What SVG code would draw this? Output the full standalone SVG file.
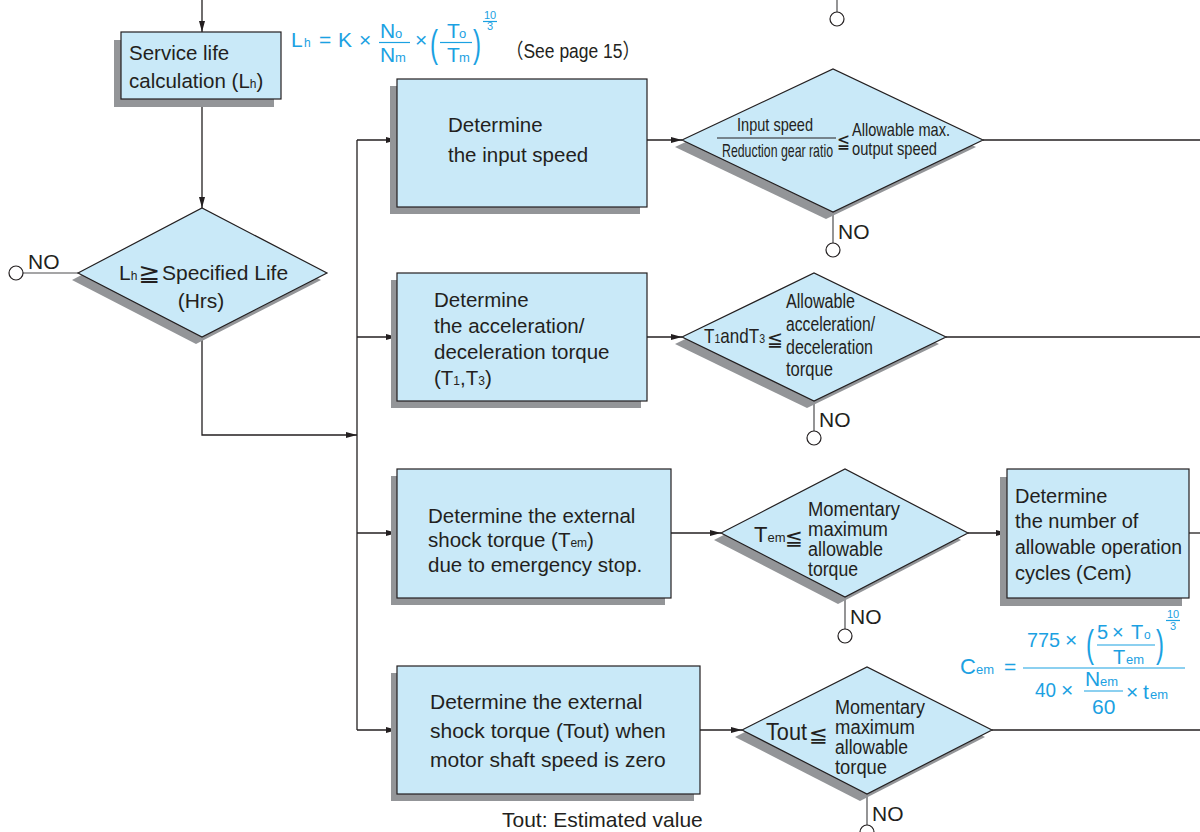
<svg xmlns="http://www.w3.org/2000/svg" width="1200" height="832" viewBox="0 0 1200 832" font-size="20.5">
<defs>
<style>
.box{fill:#c9e9f8;stroke:#231f20;stroke-width:1.2}
.sh{fill:#939598}
.t{font-family:"Liberation Sans","DejaVu Sans",sans-serif;fill:#231f20}
.s{font-family:"DejaVu Sans","Noto Sans CJK JP",sans-serif;fill:#231f20}
.c{font-family:"Liberation Sans","DejaVu Sans",sans-serif;fill:#1ba1e2}
.cb{stroke:#1ba1e2;stroke-width:1.2}
.ln{fill:none;stroke:#231f20;stroke-width:1.3}
.nl{fill:none;stroke:#4d4d4f;stroke-width:1.2}
.circ{fill:#fff;stroke:#231f20;stroke-width:1.2}
.bar{stroke:#231f20;stroke-width:1}
</style>
<marker id="ar" markerUnits="userSpaceOnUse" markerWidth="11" markerHeight="7" refX="11" refY="3.5" orient="auto">
<path d="M0,0.5 L11,3.5 L0,6.5 z" fill="#231f20"/>
</marker>
</defs>
<rect width="1200" height="832" fill="#fff"/>

<g id="connectors">
<path class="ln" d="M202,0 V32" marker-end="url(#ar)"/>
<path class="ln" d="M202,99 V208" marker-end="url(#ar)"/>
<path class="ln" d="M202,337 V435 H357" marker-end="url(#ar)"/>
<path class="ln" d="M357,140 V730"/>
<path class="ln" d="M357,140 H397" marker-end="url(#ar)"/>
<path class="ln" d="M357,337 H397" marker-end="url(#ar)"/>
<path class="ln" d="M357,533 H397" marker-end="url(#ar)"/>
<path class="ln" d="M357,730 H397" marker-end="url(#ar)"/>
<path class="ln" d="M647,140 H682" marker-end="url(#ar)"/>
<path class="ln" d="M983,140 H1200"/>
<path class="ln" d="M647,337 H682" marker-end="url(#ar)"/>
<path class="ln" d="M946,337 H1200"/>
<path class="ln" d="M671,533 H721" marker-end="url(#ar)"/>
<path class="ln" d="M968,533 H1007" marker-end="url(#ar)"/>
<path class="ln" d="M1189,533 H1200"/>
<path class="ln" d="M700,730 H742" marker-end="url(#ar)"/>
<path class="ln" d="M992,730 H1200"/>
<path class="nl" d="M78,273 H23"/>
<path class="nl" d="M833,212 V243"/>
<path class="nl" d="M814,401 V431"/>
<path class="nl" d="M845,597 V629"/>
<path class="nl" d="M867,794 V825"/>
<path class="nl" d="M837,0 V12"/>
<circle class="circ" cx="16" cy="273" r="7"/>
<circle class="circ" cx="833" cy="250" r="7"/>
<circle class="circ" cx="814" cy="438" r="7"/>
<circle class="circ" cx="845" cy="636" r="7"/>
<circle class="circ" cx="867" cy="832" r="7"/>
<circle class="circ" cx="837" cy="19" r="7"/>
<text class="t" x="28" y="269" font-size="21">NO</text>
<text class="t" x="838" y="239" font-size="21">NO</text>
<text class="t" x="819" y="427" font-size="21">NO</text>
<text class="t" x="850" y="624" font-size="21">NO</text>
<text class="t" x="872" y="821" font-size="21">NO</text>
</g>

<g id="service-life">
<rect class="sh" x="114" y="40" width="160" height="67"/>
<rect class="box" x="121" y="32" width="160" height="67"/>
<text class="t" x="129" y="60">Service life</text>
<text class="t" x="129" y="88">calculation (L<tspan font-size="12">h</tspan>)</text>
</g>

<g id="formula-life" font-size="21">
<text class="c" x="291" y="47">L</text>
<text class="c" x="304" y="47" font-size="12">h</text>
<text class="c" x="319" y="47">=</text>
<text class="c" x="338" y="47">K</text>
<text class="c" x="359" y="47">×</text>
<text class="c" x="380" y="38">N</text>
<text class="c" x="395" y="38" font-size="13">o</text>
<line class="cb" x1="379" y1="42.5" x2="410" y2="42.5"/>
<text class="c" x="380" y="62">N</text>
<text class="c" x="395" y="62" font-size="13">m</text>
<text class="c" x="415" y="47">×</text>
<text class="c" x="430" y="57" font-size="38" textLength="8" lengthAdjust="spacingAndGlyphs">(</text>
<text class="c" x="447" y="38">T</text>
<text class="c" x="459" y="38" font-size="13">o</text>
<line class="cb" x1="440" y1="42.5" x2="472" y2="42.5"/>
<text class="c" x="447" y="62">T</text>
<text class="c" x="459" y="62" font-size="13">m</text>
<text class="c" x="473" y="57" font-size="38" textLength="8" lengthAdjust="spacingAndGlyphs">)</text>
<text class="c" x="484" y="19" font-size="11">10</text>
<line class="cb" x1="483" y1="21.5" x2="497" y2="21.5" stroke-width="0.8"/>
<text class="c" x="487" y="30" font-size="11">3</text>
<text class="t" x="506" y="58" font-size="20.5" textLength="134" lengthAdjust="spacingAndGlyphs" style="font-family:'Liberation Sans','Noto Sans CJK JP',sans-serif">（See page 15）</text>
</g>

<g id="decision-life">
<polygon class="sh" points="72,280 196,215 321,280 196,344"/>
<polygon class="box" points="78,273 202,208 327,273 202,337"/>
<text class="t" x="119" y="280" font-size="21">L<tspan font-size="12">h</tspan></text>
<text class="s" x="138" y="281" font-size="24" textLength="22" lengthAdjust="spacingAndGlyphs">≧</text>
<text class="t" x="162" y="280" font-size="21">Specified Life</text>
<text class="t" x="201" y="308" font-size="21" text-anchor="middle">(Hrs)</text>
</g>

<g id="box-input-speed">
<rect class="sh" x="390" y="86" width="250" height="128"/>
<rect class="box" x="397" y="79" width="250" height="128"/>
<text class="t" x="448" y="132">Determine</text>
<text class="t" x="448" y="162">the input speed</text>
</g>

<g id="decision-input-speed">
<polygon class="sh" points="675,147 826,76 976,147 826,219"/>
<polygon class="box" points="682,140 833,69 983,140 833,212"/>
<text class="t" x="737" y="131" font-size="19" textLength="76" lengthAdjust="spacingAndGlyphs">Input speed</text>
<line class="bar" x1="717" y1="138" x2="836" y2="138"/>
<text class="t" x="722" y="157" font-size="19" textLength="111" lengthAdjust="spacingAndGlyphs">Reduction gear ratio</text>
<text class="s" x="837" y="148" font-size="20" textLength="13" lengthAdjust="spacingAndGlyphs">≦</text>
<text class="t" x="852" y="136" font-size="19" textLength="98" lengthAdjust="spacingAndGlyphs">Allowable max.</text>
<text class="t" x="852" y="155" font-size="19" textLength="85" lengthAdjust="spacingAndGlyphs">output speed</text>
</g>

<g id="box-accel-torque">
<rect class="sh" x="391" y="280" width="250" height="128"/>
<rect class="box" x="397" y="273" width="250" height="128"/>
<text class="t" x="434" y="307">Determine</text>
<text class="t" x="434" y="333">the acceleration/</text>
<text class="t" x="434" y="359">deceleration torque</text>
<text class="t" x="434" y="385">(T<tspan font-size="12">1</tspan>,T<tspan font-size="12">3</tspan>)</text>
</g>

<g id="decision-accel-torque">
<polygon class="sh" points="675,344 807,280 939,344 807,408"/>
<polygon class="box" points="682,337 814,273 946,337 814,401"/>
<text class="t" x="704" y="343" font-size="21" textLength="61" lengthAdjust="spacingAndGlyphs">T<tspan font-size="13">1</tspan>andT<tspan font-size="13">3</tspan></text>
<text class="s" x="767" y="346" font-size="20" textLength="16" lengthAdjust="spacingAndGlyphs">≦</text>
<text class="t" x="786" y="308" font-size="20" textLength="69" lengthAdjust="spacingAndGlyphs">Allowable</text>
<text class="t" x="786" y="331" font-size="20" textLength="89" lengthAdjust="spacingAndGlyphs">acceleration/</text>
<text class="t" x="786" y="354" font-size="20" textLength="87" lengthAdjust="spacingAndGlyphs">deceleration</text>
<text class="t" x="786" y="376" font-size="20" textLength="47" lengthAdjust="spacingAndGlyphs">torque</text>
</g>

<g id="box-shock-torque-em">
<rect class="sh" x="391" y="476" width="274" height="129"/>
<rect class="box" x="397" y="469" width="274" height="129"/>
<text class="t" x="428" y="523">Determine the external</text>
<text class="t" x="428" y="547">shock torque (T<tspan font-size="12">em</tspan>)</text>
<text class="t" x="428" y="572">due to emergency stop.</text>
</g>

<g id="decision-tem">
<polygon class="sh" points="714,540 838,476 961,540 838,604"/>
<polygon class="box" points="721,533 845,469 968,533 845,597"/>
<text class="t" x="754" y="542" font-size="22">T<tspan font-size="13">em</tspan></text>
<text class="s" x="785" y="545" font-size="21" textLength="18" lengthAdjust="spacingAndGlyphs">≦</text>
<text class="t" x="808" y="516" font-size="20" textLength="92" lengthAdjust="spacingAndGlyphs">Momentary</text>
<text class="t" x="808" y="536" font-size="20" textLength="80" lengthAdjust="spacingAndGlyphs">maximum</text>
<text class="t" x="808" y="556" font-size="20" textLength="75" lengthAdjust="spacingAndGlyphs">allowable</text>
<text class="t" x="808" y="576" font-size="20" textLength="50" lengthAdjust="spacingAndGlyphs">torque</text>
</g>

<g id="box-operation-cycles">
<rect class="sh" x="1000" y="477" width="182" height="129"/>
<rect class="box" x="1007" y="469" width="182" height="129"/>
<text class="t" x="1015" y="503" font-size="20">Determine</text>
<text class="t" x="1015" y="528" font-size="20">the number of</text>
<text class="t" x="1015" y="554" font-size="20" textLength="167" lengthAdjust="spacingAndGlyphs">allowable operation</text>
<text class="t" x="1015" y="580" font-size="20">cycles (Cem)</text>
</g>

<g id="formula-cem" font-size="21">
<text class="c" x="960" y="674" font-size="22">C</text>
<text class="c" x="976" y="674" font-size="13">em</text>
<text class="c" x="1004" y="674">=</text>
<line class="cb" x1="1023" y1="668" x2="1185" y2="668"/>
<text class="c" x="1027" y="647" textLength="33" lengthAdjust="spacingAndGlyphs">775</text>
<text class="c" x="1065" y="647">×</text>
<text class="c" x="1086" y="657" font-size="38" textLength="8" lengthAdjust="spacingAndGlyphs">(</text>
<text class="c" x="1097" y="639" font-size="20">5</text>
<text class="c" x="1112" y="639" font-size="20">×</text>
<text class="c" x="1131" y="639" font-size="20">T</text>
<text class="c" x="1144" y="639" font-size="12">o</text>
<line class="cb" x1="1097" y1="645" x2="1155" y2="645"/>
<text class="c" x="1113" y="664" font-size="20">T</text>
<text class="c" x="1126" y="664" font-size="13">em</text>
<text class="c" x="1156" y="657" font-size="38" textLength="8" lengthAdjust="spacingAndGlyphs">)</text>
<text class="c" x="1167" y="618" font-size="11">10</text>
<line class="cb" x1="1166" y1="620.5" x2="1180" y2="620.5" stroke-width="0.8"/>
<text class="c" x="1170" y="630" font-size="11">3</text>
<text class="c" x="1035" y="697" textLength="21" lengthAdjust="spacingAndGlyphs">40</text>
<text class="c" x="1061" y="697">×</text>
<text class="c" x="1085" y="686">N</text>
<text class="c" x="1100" y="686" font-size="13">em</text>
<line class="cb" x1="1084" y1="691" x2="1123" y2="691"/>
<text class="c" x="1092" y="714">60</text>
<text class="c" x="1126" y="699">×</text>
<text class="c" x="1143" y="699">t</text>
<text class="c" x="1150" y="699" font-size="13">em</text>
</g>

<g id="box-shock-torque-out">
<rect class="sh" x="391" y="673" width="303" height="128"/>
<rect class="box" x="397" y="666" width="303" height="128"/>
<text class="t" x="430" y="709" font-size="21">Determine the external</text>
<text class="t" x="430" y="738" font-size="21">shock torque (Tout) when</text>
<text class="t" x="430" y="767" font-size="21">motor shaft speed is zero</text>
<text class="t" x="502" y="827" font-size="21">Tout: Estimated value</text>
</g>

<g id="decision-tout">
<polygon class="sh" points="735,737 860,674 985,737 860,801"/>
<polygon class="box" points="742,730 867,667 992,730 867,794"/>
<text class="t" x="766" y="740" font-size="23" textLength="41" lengthAdjust="spacingAndGlyphs">Tout</text>
<text class="s" x="809" y="742" font-size="21" textLength="19" lengthAdjust="spacingAndGlyphs">≦</text>
<text class="t" x="835" y="714" font-size="20" textLength="90" lengthAdjust="spacingAndGlyphs">Momentary</text>
<text class="t" x="835" y="734" font-size="20" textLength="80" lengthAdjust="spacingAndGlyphs">maximum</text>
<text class="t" x="835" y="754" font-size="20" textLength="73" lengthAdjust="spacingAndGlyphs">allowable</text>
<text class="t" x="835" y="774" font-size="20" textLength="52" lengthAdjust="spacingAndGlyphs">torque</text>
</g>
</svg>
